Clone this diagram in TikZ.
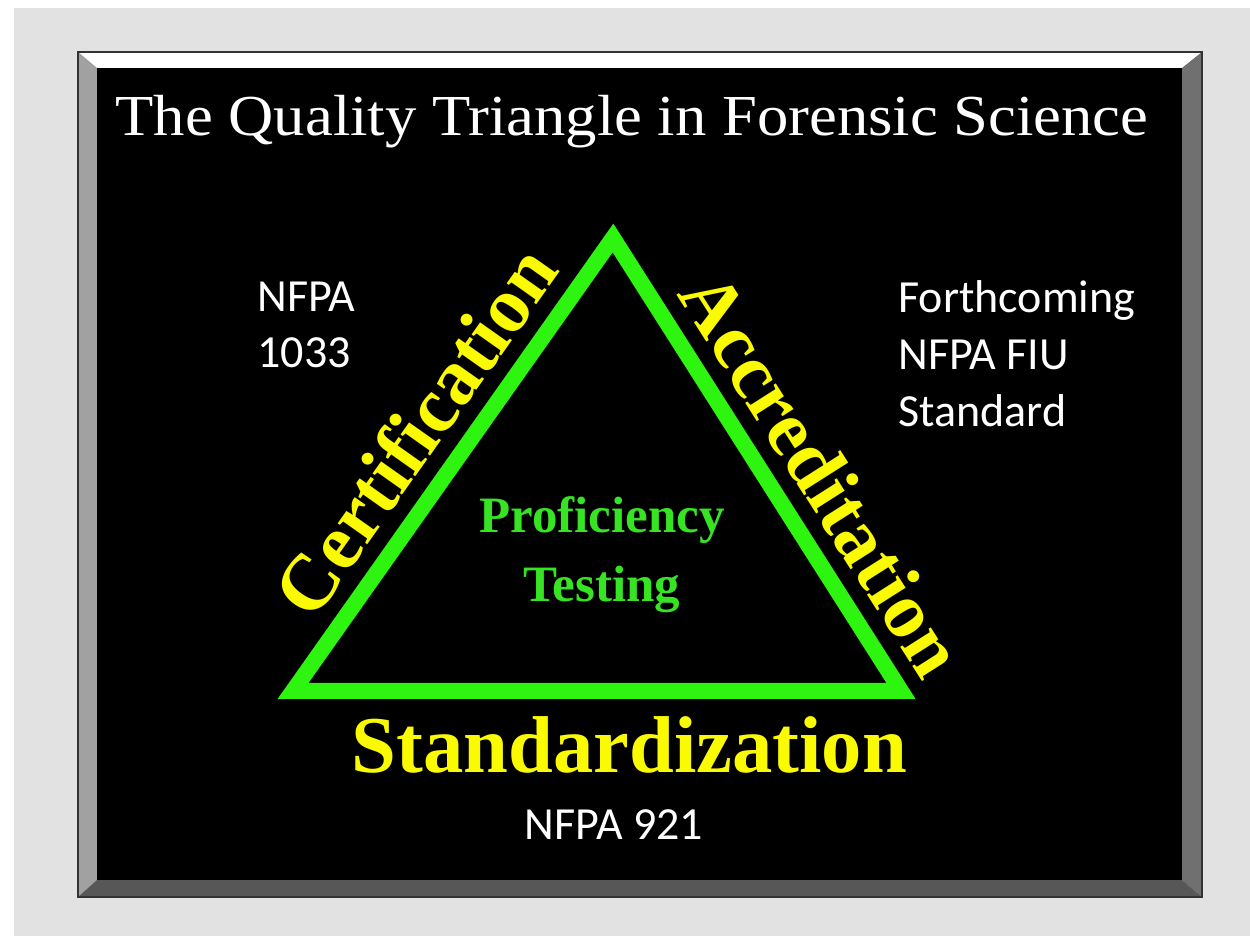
\documentclass[tikz,border=0pt]{standalone}
\usepackage{fontspec}
\usepackage{tikz}
\usetikzlibrary{positioning}
\newfontfamily\calibfont{Carlito}
\newfontfamily\timesfont{Liberation Serif}
\definecolor{trigreen}{RGB}{45,245,15}
\definecolor{profgreen}{RGB}{55,228,35}
\definecolor{labyellow}{RGB}{250,250,0}
\definecolor{bggray}{RGB}{226,226,226}

\begin{document}
\begin{tikzpicture}[x=0.5pt, y=-0.5pt,
  sidelabel/.style={font=\timesfont\bfseries\fontsize{39.5pt}{39.5pt}\selectfont, text=labyellow, inner sep=0pt, sloped, above=11pt},
  baselabel/.style={font=\timesfont\bfseries\fontsize{40.3pt}{40.3pt}\selectfont, text=labyellow, inner sep=0pt, below=12.5pt},
  proflabel/.style={font=\timesfont\bfseries\fontsize{25.5pt}{25.5pt}\selectfont, text=profgreen, inner sep=0pt, anchor=base},
  note/.style={font=\calibfont\fontsize{23pt}{28pt}\selectfont, text=white, inner sep=0pt},
  titlelabel/.style={font=\timesfont\fontsize{29pt}{29pt}\selectfont, text=white, inner sep=0pt, anchor=base}]
  \useasboundingbox (0,0) rectangle (1250,936);

  % 背景
  \fill[white] (0,0) rectangle (1250,936);
  \fill[bggray] (14,8) rectangle (1250,936);

  % 枠
  \fill[white] (78,52) -- (1202,52) -- (1182,68) -- (97,68) -- cycle;
  \fill[black!37] (78,52) -- (97,68) -- (97,880) -- (78,897) -- cycle;
  \fill[black!56] (1202,52) -- (1202,897) -- (1182,880) -- (1182,68) -- cycle;
  \fill[black!66] (78,897) -- (1202,897) -- (1182,880) -- (97,880) -- cycle;
  \fill[black] (97,68) rectangle (1182,880);
  \draw[black!80, line width=1pt] (78,52) rectangle (1202,897);

  % タイトル
  \node[titlelabel] (title) at (632,136) {\scalebox{1.08}[1]{The Quality Triangle in Forensic Science}};

  % 三角形
  \coordinate (apex) at (613,238);
  \coordinate (bl) at (293,691);
  \coordinate (br) at (901,691);
  \draw[trigreen, line width=8pt, line join=miter] (bl) -- (apex) -- (br) -- cycle;

  % 辺のラベル
  \path (bl) -- node[sidelabel, pos=0.51] (cert) {Certification} (apex);
  \path (apex) -- node[sidelabel, pos=0.58] (accr) {Accreditation} (br);
  \path (br) -- node[baselabel, pos=0.447] (stand) {Standardization} (bl);

  % 中央
  \node[proflabel] (prof) at (602,533) {Proficiency};
  \node[proflabel] (test) at ([yshift=-34.5pt]prof.base) {Testing};

  % NFPA
  \foreach \t [count=\i] in {NFPA, 1033} {
    \node[note, anchor=base west] (left\i) at (257, {312+56*(\i-1)}) {\t};
  }
  \foreach \t [count=\i] in {Forthcoming, NFPA FIU, Standard} {
    \node[note, anchor=base west] (right\i) at (898, {313+57*(\i-1)}) {\t};
  }
  \node[note, anchor=base] (nfpa) at (614,840) {NFPA 921};
\end{tikzpicture}
\end{document}
